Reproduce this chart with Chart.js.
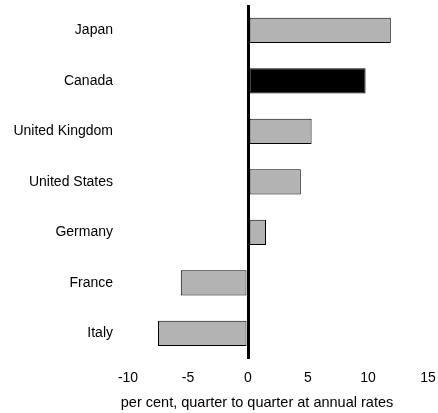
<!DOCTYPE html>
<html>
<head>
<meta charset="utf-8">
<script src="https://cdn.jsdelivr.net/npm/chart.js@4/dist/chart.umd.min.js"></script>
<style>
  html, body { margin: 0; padding: 0; background: #fff; }
  .wrap { width: 438px; height: 413px; position: relative; }
</style>
</head>
<body>
<div class="wrap"><canvas id="growth"></canvas></div>
<script>
// ===== Real GDP growth, latest quarter =====
const countries = ['Japan', 'Canada', 'United Kingdom', 'United States', 'Germany', 'France', 'Italy'];
const growth    = [11.9, 9.8, 5.3, 4.4, 1.5, -5.6, -7.5];
const xTicks    = [-10, -5, 0, 5, 10, 15];
const axisTitle = 'per cent, quarter to quarter at annual rates';
const highlight = 'Canada';

(() => {
  const canvas = document.getElementById('growth');
  if (!canvas || typeof Chart === 'undefined') return;

  const font = { family: "'Liberation Sans', Arial, sans-serif", size: 14 };

  // Axis title sits a little left of the plot centre, as in the original
  const axisTitlePlugin = {
    id: 'axisTitle',
    afterDraw(chart) {
      const { ctx, chartArea } = chart;
      const x = (chartArea.left + chartArea.right) / 2 - 21;
      ctx.save();
      ctx.fillStyle = '#000';
      ctx.font = `14.5px ${font.family}`;
      ctx.textAlign = 'center';
      ctx.textBaseline = 'middle';
      ctx.fillText(axisTitle, x, chartArea.bottom + 44);
      ctx.restore();
    },
  };

  new Chart(canvas.getContext('2d'), {
    type: 'bar',
    data: {
      labels: countries,
      datasets: [{
        data: growth,
        backgroundColor: countries.map(c => c === highlight ? '#000000' : '#b3b3b3'),
        borderColor: '#000000',
        borderWidth: 1,
        borderSkipped: false,
        barPercentage: 0.5,
        categoryPercentage: 1.0,
      }],
    },
    options: {
      indexAxis: 'y',
      responsive: true,
      maintainAspectRatio: false,
      animation: false,
      layout: { padding: { top: 5, right: 10, left: 0, bottom: 0 } },
      scales: {
        x: {
          min: xTicks[0],
          max: xTicks[xTicks.length - 1],
          afterBuildTicks: (scale) => { scale.ticks = xTicks.map(v => ({ value: v })); },
          afterFit: (scale) => {
            scale.height = 54.5;
            scale.paddingLeft = 0;
            scale.paddingRight = 0;
          },
          grid: {
            drawTicks: false,
            color: (c) => c.tick && c.tick.value === 0 ? '#000' : 'transparent',
            lineWidth: (c) => c.tick && c.tick.value === 0 ? 3 : 0,
          },
          border: { display: false },
          ticks: { color: '#000', font, padding: 11, maxRotation: 0 },
        },
        y: {
          grid: { display: false, drawTicks: false },
          border: { display: false },
          ticks: { color: '#000', font, padding: 15 },
          afterFit: (scale) => {
            scale.width = 128;
            scale.paddingTop = 0;
            scale.paddingBottom = 0;
          },
        },
      },
      plugins: {
        legend: { display: false },
        tooltip: { enabled: false },
      },
    },
    plugins: [axisTitlePlugin],
  });
})();
</script>
</body>
</html>
